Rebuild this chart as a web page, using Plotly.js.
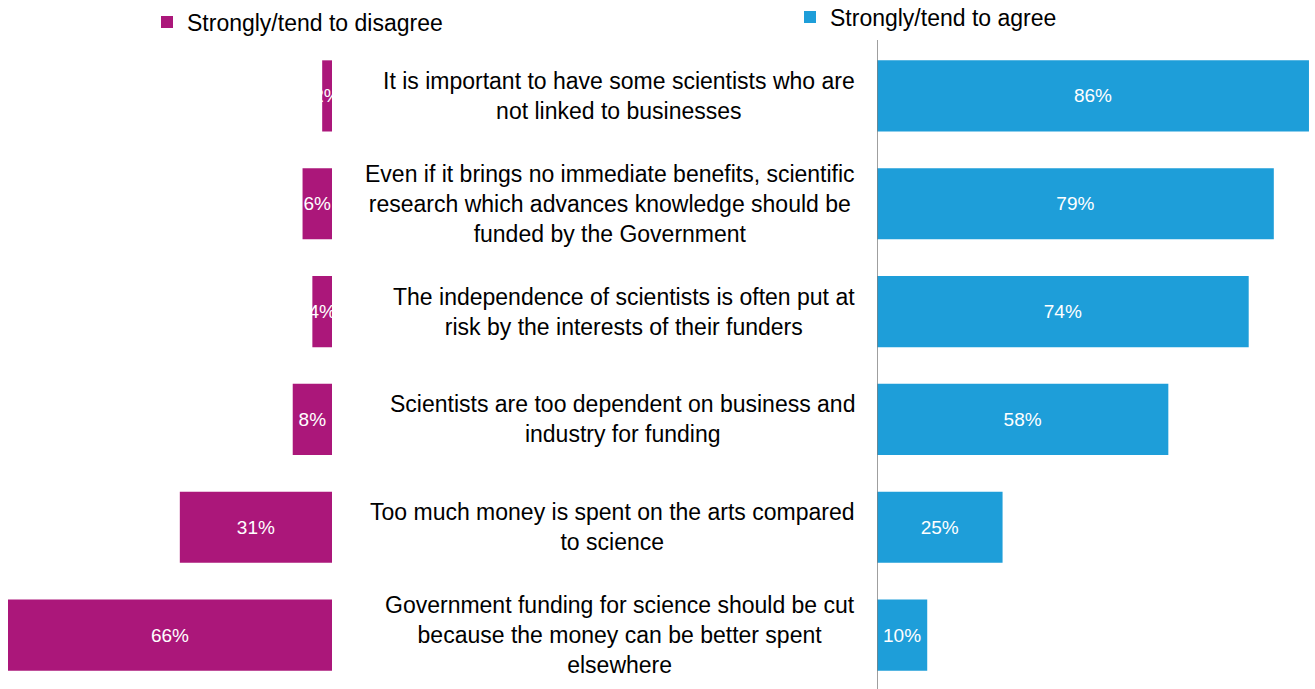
<!DOCTYPE html>
<html>
<head>
<meta charset="utf-8">
<script src="https://cdn.plot.ly/plotly-3.0.1.min.js"></script>
<style>html,body{margin:0;padding:0;background:#fff;}#chart{width:1315px;height:689px;}</style>
</head>
<body>
<div id="chart"></div>
<script>
var categories = [
  "It is important to have some scientists who are<br>not linked to businesses",
  "Even if it brings no immediate benefits, scientific<br>research which advances knowledge should be<br>funded by the Government",
  "The independence of scientists is often put at<br>risk by the interests of their funders",
  "Scientists are too dependent on business and<br>industry for funding",
  "Too much money is spent on the arts compared<br>to science",
  "Government funding for science should be cut<br>because the money can be better spent<br>elsewhere"
];
var disagree = [2, 6, 4, 8, 31, 66];
var agree = [86, 79, 74, 58, 25, 10];
var seriesNames = ["Strongly/tend to disagree", "Strongly/tend to agree"];
var colors = ["#AB177A", "#1E9ED9"];

var FONT = "'Liberation Sans', Arial, sans-serif";
var W = 1315;

var traces = [
  {
    type: "bar", orientation: "h", name: seriesNames[0],
    y: categories, x: disagree, xaxis: "x", yaxis: "y",
    marker: {color: colors[0]}, width: 0.66,
    texttemplate: "%{x}%", textposition: "inside", insidetextanchor: "middle",
    textangle: 0, constraintext: "none",
    insidetextfont: {color: "#ffffff", size: 19, family: FONT},
    legend: "legend", hoverinfo: "skip", cliponaxis: false
  },
  {
    type: "bar", orientation: "h", name: seriesNames[1],
    y: categories, x: agree, xaxis: "x2", yaxis: "y",
    marker: {color: colors[1]}, width: 0.66,
    texttemplate: "%{x}%", textposition: "inside", insidetextanchor: "middle",
    textangle: 0, constraintext: "none",
    insidetextfont: {color: "#ffffff", size: 19, family: FONT},
    legend: "legend2", hoverinfo: "skip", cliponaxis: false
  }
];

var annotations = categories.map(function (c) {
  return {
    text: c, xref: "paper", x: 857 / W, xanchor: "right",
    yref: "y", y: c, yanchor: "middle", align: "center",
    showarrow: false, font: {family: FONT, size: 23, color: "#000000"}
  };
});

var layout = {
  width: 1315, height: 689,
  margin: {l: 0, r: 0, t: 42, b: 0, pad: 0, autoexpand: false},
  paper_bgcolor: "#ffffff", plot_bgcolor: "rgba(0,0,0,0)",
  font: {family: FONT, size: 23, color: "#000000"},
  showlegend: true,
  xaxis: {domain: [0, 332 / W], range: [67.63, 0], showticklabels: false,
          showgrid: false, zeroline: false, showline: false, ticks: "", fixedrange: true},
  xaxis2: {domain: [877 / W, 1], range: [0, 87.2], showticklabels: false,
           showgrid: false, zeroline: false, showline: false, ticks: "", fixedrange: true},
  yaxis: {type: "category", autorange: "reversed", showticklabels: false,
          showgrid: false, zeroline: false, showline: false, ticks: "", anchor: "x", fixedrange: true},
  legend: {xref: "container", yref: "container", x: 147 / W, xanchor: "left",
           y: 1 - 22 / 689, yanchor: "middle", bgcolor: "rgba(0,0,0,0)",
           font: {family: FONT, size: 23, color: "#000"}},
  legend2: {xref: "container", yref: "container", x: 790 / W, xanchor: "left",
            y: 1 - 17 / 689, yanchor: "middle", bgcolor: "rgba(0,0,0,0)",
            font: {family: FONT, size: 23, color: "#000"}},
  shapes: [{type: "line", xref: "x2", x0: 0, x1: 0, yref: "paper", y0: 0, y1: 1.003,
            line: {color: "#7f7f7f", width: 1.5}}],
  annotations: annotations
};

Plotly.newPlot("chart", traces, layout, {displayModeBar: false, staticPlot: true});
</script>
</body>
</html>
